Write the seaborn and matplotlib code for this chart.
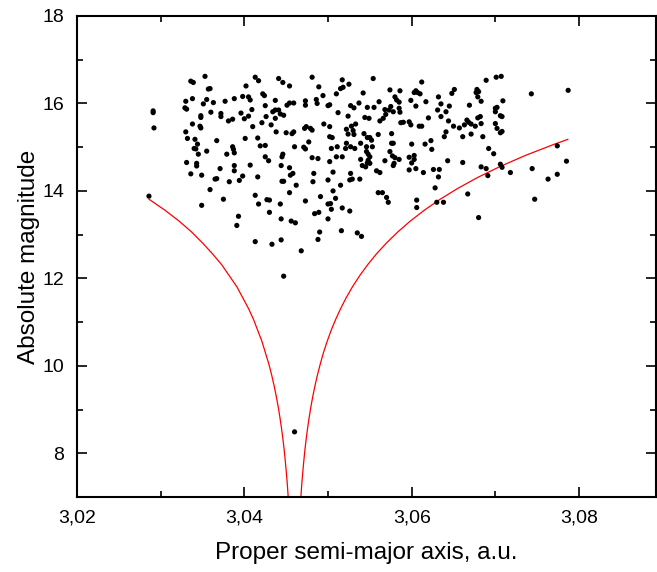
import matplotlib
matplotlib.use("Agg")
import matplotlib.pyplot as plt
import seaborn as sns
import pandas as pd
from matplotlib.ticker import FixedLocator

sns.set_theme(style="ticks")
plt.rcParams['font.family'] = ['Liberation Sans', 'DejaVu Sans']
plt.rcParams['text.color'] = 'black'
plt.rcParams['axes.labelcolor'] = 'black'
plt.rcParams['xtick.color'] = 'black'
plt.rcParams['ytick.color'] = 'black'

# Asteroids: proper semi-major axis (a.u.) and absolute magnitude
semi_major_axis = [
    3.0286, 3.0291, 3.0291, 3.0292, 3.0329, 3.0331, 3.0330, 3.0336, 3.0339, 3.0338,
    3.0330, 3.0332, 3.0338, 3.0331, 3.0336, 3.0341, 3.0340, 3.0342, 3.0343, 3.0343,
    3.0344, 3.0345, 3.0348, 3.0348, 3.0347, 3.0348, 3.0349, 3.0349, 3.0351, 3.0353,
    3.0355, 3.0355, 3.0357, 3.0359, 3.0359, 3.0360, 3.0363, 3.0365, 3.0367, 3.0367,
    3.0371, 3.0372, 3.0372, 3.0375, 3.0377, 3.0379, 3.0381, 3.0382, 3.0386, 3.0386,
    3.0387, 3.0388, 3.0388, 3.0388, 3.0388, 3.0391, 3.0393, 3.0394, 3.0396, 3.0398,
    3.0398, 3.0400, 3.0402, 3.0405, 3.0405, 3.0407, 3.0409, 3.0410, 3.0401, 3.0407,
    3.0413, 3.0413, 3.0413, 3.0417, 3.0416, 3.0416, 3.0417, 3.0419, 3.0422, 3.0424,
    3.0421, 3.0425, 3.0425, 3.0425, 3.0426, 3.0427, 3.0430, 3.0429, 3.0430, 3.0432,
    3.0433, 3.0437, 3.0437, 3.0438, 3.0441, 3.0443, 3.0444, 3.0444, 3.0446, 3.0447,
    3.0444, 3.0445, 3.0447, 3.0446, 3.0445, 3.0447, 3.0451, 3.0450, 3.0454, 3.0454,
    3.0459, 3.0457, 3.0459, 3.0454, 3.0456, 3.0461, 3.0454, 3.0455, 3.0460, 3.0462,
    3.0458, 3.0468, 3.0471, 3.0473, 3.0472, 3.0474, 3.0473, 3.0473, 3.0473, 3.0477,
    3.0479, 3.0481, 3.0481, 3.0481, 3.0482, 3.0483, 3.0484, 3.0489, 3.0486, 3.0487,
    3.0488, 3.0488, 3.0489, 3.0490, 3.0491, 3.0494, 3.0495, 3.0500, 3.0500, 3.0500,
    3.0500, 3.0460, 3.0434, 3.0441, 3.0443, 3.0437,
    3.0554, 3.0517, 3.0515, 3.0518, 3.0525, 3.0510, 3.0502, 3.0612, 3.0605, 3.0607,
    3.0610, 3.0603, 3.0701, 3.0707, 3.0689, 3.0678, 3.0680, 3.0677, 3.0679, 3.0683,
    3.0743, 3.0787, 3.0574, 3.0586, 3.0580, 3.0582, 3.0585, 3.0542, 3.0561, 3.0555,
    3.0512, 3.0527, 3.0531, 3.0537, 3.0547, 3.0549, 3.0544, 3.0599, 3.0605, 3.0617,
    3.0632, 3.0635, 3.0645, 3.0648, 3.0651, 3.0669, 3.0700, 3.0702, 3.0700, 3.0706,
    3.0708, 3.0709, 3.0575, 3.0578, 3.0573, 3.0585, 3.0586, 3.0568, 3.0569, 3.0566,
    3.0562, 3.0524, 3.0533, 3.0528, 3.0502, 3.0587, 3.0590, 3.0597, 3.0599, 3.0609,
    3.0612, 3.0620, 3.0631, 3.0635, 3.0641, 3.0644, 3.0650, 3.0657, 3.0663, 3.0666,
    3.0668, 3.0671, 3.0676, 3.0679, 3.0682, 3.0683, 3.0700, 3.0702, 3.0706, 3.0708,
    3.0661, 3.0671, 3.0685, 3.0639, 3.0641, 3.0522, 3.0524, 3.0530, 3.0531, 3.0543,
    3.0547, 3.0550, 3.0552, 3.0539, 3.0546, 3.0553, 3.0576, 3.0560, 3.0502, 3.0505,
    3.0504, 3.0511, 3.0522, 3.0521, 3.0527, 3.0532, 3.0517, 3.0510, 3.0502, 3.0546,
    3.0548, 3.0550, 3.0548, 3.0547, 3.0550, 3.0539, 3.0541, 3.0545, 3.0576, 3.0578,
    3.0574, 3.0577, 3.0580, 3.0579, 3.0578, 3.0585, 3.0568, 3.0597, 3.0600, 3.0603,
    3.0603, 3.0597, 3.0605, 3.0614, 3.0600, 3.0616, 3.0623, 3.0624, 3.0643, 3.0661,
    3.0626, 3.0633, 3.0632, 3.0628, 3.0692, 3.0698, 3.0683, 3.0689, 3.0691, 3.0706,
    3.0708, 3.0718, 3.0744, 3.0774, 3.0785, 3.0527, 3.0526, 3.0529, 3.0538, 3.0506,
    3.0558, 3.0562, 3.0560, 3.0565, 3.0570, 3.0572, 3.0515, 3.0506, 3.0503, 3.0509,
    3.0517, 3.0526, 3.0504, 3.0606, 3.0606, 3.0630, 3.0638, 3.0667, 3.0680, 3.0747,
    3.0763, 3.0774, 3.0516, 3.0535, 3.0540,
]
absolute_magnitude = [
    13.88, 15.83, 15.79, 15.44, 15.90, 15.87, 16.05, 16.51, 16.48, 16.11,
    15.35, 15.20, 15.53, 14.65, 14.39, 15.18, 14.97, 14.96, 14.63, 14.57,
    15.07, 14.84, 15.72, 15.68, 15.48, 15.44, 14.36, 13.67, 15.99, 16.62,
    14.91, 16.09, 16.33, 16.34, 14.03, 15.80, 16.02, 14.27, 14.28, 15.15,
    14.51, 15.77, 15.70, 13.81, 16.05, 14.84, 15.60, 14.21, 15.64, 15.01,
    14.95, 14.87, 16.11, 14.58, 14.46, 13.21, 13.42, 14.24, 15.78, 14.34,
    16.16, 15.65, 16.40, 16.15, 15.71, 16.08, 15.86, 15.47, 15.20, 14.59,
    13.90, 12.84, 16.60, 16.52, 15.21, 14.32, 13.70, 15.03, 16.22, 16.18,
    15.56, 15.95, 15.04, 14.78, 15.70, 13.80, 13.79, 14.69, 13.51, 15.51,
    12.78, 15.85, 16.07, 15.35, 16.57, 13.70, 12.88, 13.36, 16.48, 12.05,
    14.58, 14.22, 14.22, 14.84, 14.78, 15.73, 15.96, 15.33, 16.40, 16.01,
    16.01, 15.31, 15.35, 13.96, 13.31, 13.27, 14.53, 14.36, 15.01, 14.13,
    14.40, 12.63, 15.00, 14.96, 15.43, 15.47, 15.96, 16.06, 13.77, 15.12,
    15.43, 15.39, 14.76, 16.60, 14.21, 14.40, 13.48, 13.51, 16.09, 16.00,
    14.74, 12.89, 16.38, 13.06, 13.87, 16.18, 15.53, 15.95, 14.25, 13.36,
    13.70, 8.49, 15.81, 15.85, 15.76, 15.66,
    16.57, 16.54, 16.34, 16.37, 16.44, 16.22, 15.97, 16.49, 16.29, 16.25,
    16.22, 16.25, 16.60, 16.62, 16.53, 16.32, 16.27, 16.25, 16.15, 16.05,
    16.22, 16.30, 16.31, 16.29, 16.15, 16.08, 16.03, 16.24, 16.04, 15.91,
    15.79, 15.95, 15.90, 16.01, 15.91, 15.66, 15.68, 16.07, 15.94, 16.04,
    16.15, 15.99, 15.94, 16.23, 16.32, 15.96, 15.89, 15.91, 15.81, 15.72,
    15.70, 16.06, 15.93, 15.81, 15.85, 15.89, 15.80, 15.86, 15.75, 15.66,
    15.60, 15.71, 15.53, 15.48, 15.47, 15.56, 15.57, 15.58, 15.51, 15.48,
    15.48, 15.67, 15.85, 15.70, 15.81, 15.60, 15.48, 15.44, 15.51, 15.62,
    15.57, 15.53, 15.48, 15.67, 15.70, 15.54, 15.54, 15.43, 15.33, 15.36,
    15.24, 15.30, 15.24, 15.24, 15.35, 15.41, 15.30, 15.38, 15.29, 15.31,
    15.22, 15.22, 15.16, 15.09, 15.01, 15.01, 15.31, 15.29, 15.24, 15.22,
    14.97, 15.01, 15.09, 14.97, 15.01, 14.97, 14.78, 14.78, 14.67, 14.90,
    14.84, 14.78, 14.70, 14.64, 14.63, 14.72, 14.58, 14.55, 15.09, 15.09,
    14.90, 14.80, 14.76, 14.63, 14.58, 14.72, 14.69, 14.77, 14.64, 14.81,
    14.72, 14.48, 14.51, 14.42, 15.07, 15.07, 15.15, 14.95, 14.69, 14.65,
    14.49, 14.49, 14.32, 14.07, 14.97, 14.85, 14.55, 14.51, 14.35, 14.61,
    14.54, 14.42, 14.51, 15.03, 14.68, 14.40, 14.25, 14.27, 14.27, 14.43,
    14.46, 14.42, 13.96, 13.96, 13.85, 13.74, 14.13, 14.00, 13.71, 13.83,
    13.61, 13.54, 13.58, 13.79, 13.62, 13.74, 13.74, 13.93, 13.39, 13.81,
    14.27, 14.38, 13.09, 13.04, 12.96,
]

# Boundary (V-shape) curve
left_curve_a = [3.0286, 3.0305, 3.0322, 3.0337, 3.0350, 3.0362, 3.0373, 3.0382,
                3.0391, 3.0398, 3.0405, 3.0411, 3.0416, 3.0421, 3.0425, 3.0429,
                3.04324, 3.04354, 3.04381, 3.04405, 3.04426, 3.04445, 3.04462,
                3.04477, 3.04490, 3.04502, 3.04513, 3.04522, 3.04531]
left_curve_H = [13.81, 13.56, 13.31, 13.06, 12.81, 12.56, 12.31, 12.06, 11.81,
                11.56, 11.31, 11.06, 10.81, 10.56, 10.31, 10.06, 9.81, 9.56, 9.31,
                9.06, 8.81, 8.56, 8.31, 8.06, 7.81, 7.56, 7.31, 7.06, 6.81]
right_curve_a = [3.07868, 3.07694, 3.07358, 3.07058, 3.06791, 3.06553, 3.06341,
                 3.06152, 3.05983, 3.05833, 3.05699, 3.05579, 3.05473, 3.05378,
                 3.05293, 3.05218, 3.05151, 3.05091, 3.05037, 3.04990, 3.04947,
                 3.04910, 3.04876, 3.04846, 3.04819, 3.04795, 3.04774, 3.04755,
                 3.04738, 3.04723, 3.04710, 3.04698, 3.04687, 3.04678, 3.04669]
right_curve_H = [15.18, 15.06, 14.81, 14.56, 14.31, 14.06, 13.81, 13.56, 13.31,
                 13.06, 12.81, 12.56, 12.31, 12.06, 11.81, 11.56, 11.31, 11.06,
                 10.81, 10.56, 10.31, 10.06, 9.81, 9.56, 9.31, 9.06, 8.81, 8.56,
                 8.31, 8.06, 7.81, 7.56, 7.31, 7.06, 6.81]

x_ticks = [3.02, 3.04, 3.06, 3.08]
x_tick_labels = ["3,02", "3,04", "3,06", "3,08"]
x_minor = [3.03, 3.05, 3.07]
y_ticks = [8, 10, 12, 14, 16, 18]
y_minor = [9, 11, 13, 15, 17]

pts = pd.DataFrame({"a": semi_major_axis, "H": absolute_magnitude})

W, H = 657, 572
fig = plt.figure(figsize=(W / 100, H / 100), dpi=100)
fig.patch.set_facecolor("white")
ax = fig.add_axes([77 / W, 1 - 497 / H, (656 - 77) / W, (497 - 16) / H])
ax.set_facecolor("white")

sns.lineplot(x=left_curve_a, y=left_curve_H, sort=False, estimator=None,
             color="#ff0000", linewidth=0.9, ax=ax)
sns.lineplot(x=right_curve_a, y=right_curve_H, sort=False, estimator=None,
             color="#ff0000", linewidth=0.9, ax=ax)
sns.scatterplot(data=pts, x="a", y="H", s=14, color="black",
                edgecolor="none", linewidth=0, ax=ax, zorder=3)

ax.set_xlim(3.02, 3.0892)
ax.set_ylim(7, 18)
ax.xaxis.set_major_locator(FixedLocator(x_ticks))
ax.set_xticklabels(x_tick_labels)
ax.xaxis.set_minor_locator(FixedLocator(x_minor))
ax.yaxis.set_major_locator(FixedLocator(y_ticks))
ax.set_yticklabels([str(v) for v in y_ticks])
ax.yaxis.set_minor_locator(FixedLocator(y_minor))

ax.tick_params(which="both", direction="in", top=True, right=True,
               width=1.2, colors="black", labelcolor="black", labelsize=14)
ax.tick_params(which="major", length=7, pad=9)
ax.tick_params(which="minor", length=4)
for sp in ax.spines.values():
    sp.set_linewidth(1.5)
    sp.set_color("black")
    sp.set_visible(True)

ax.set_xlabel("Proper semi-major axis, a.u.", fontsize=17.5, labelpad=11, color="black")
ax.set_ylabel("Absolute magnitude", fontsize=17.5, labelpad=2, color="black")
ax.grid(False)

fig.savefig("out.png", dpi=100, facecolor="white")
